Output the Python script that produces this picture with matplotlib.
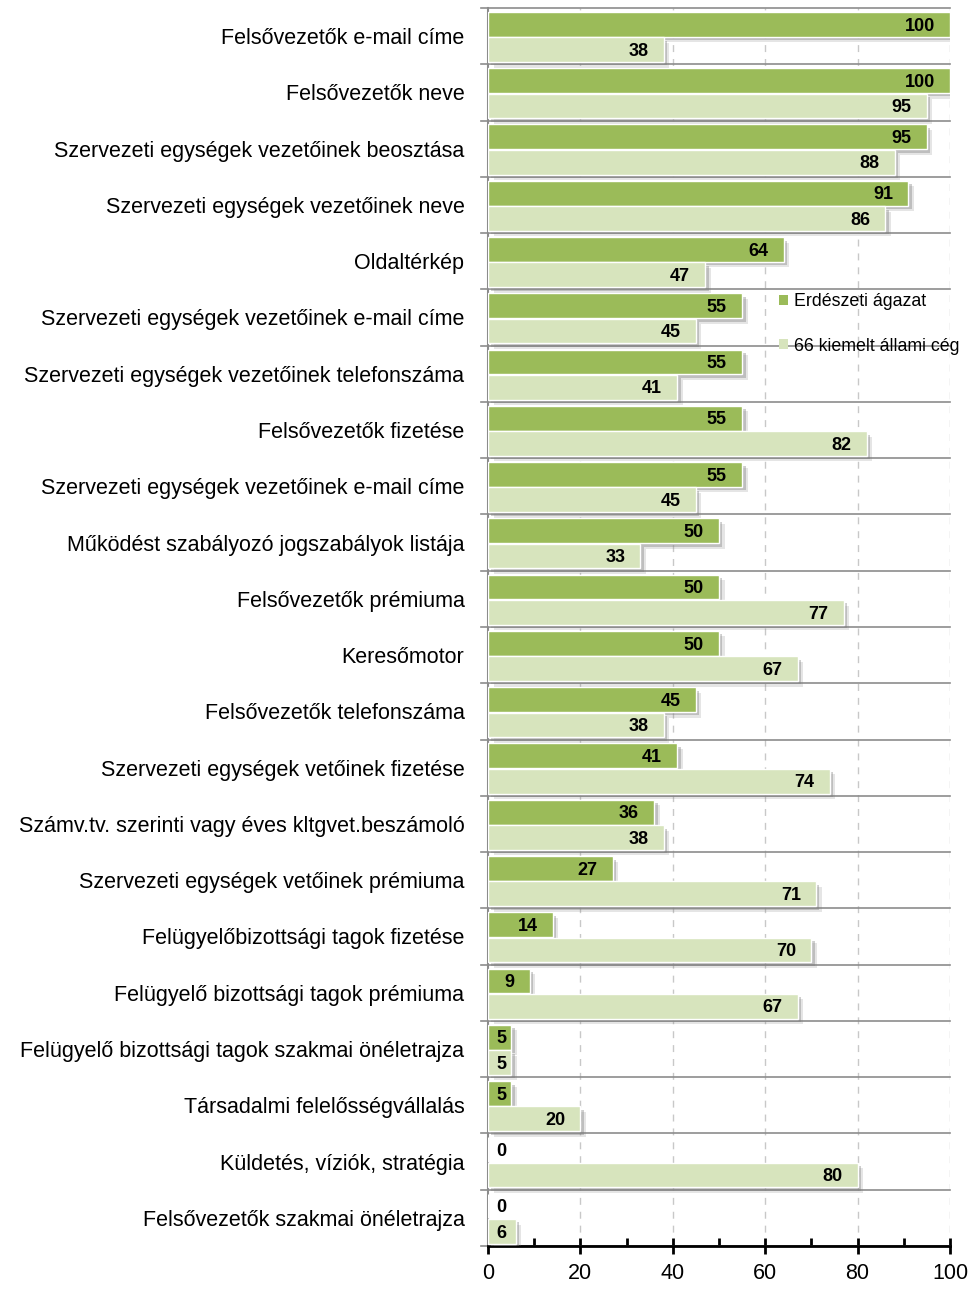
import matplotlib
matplotlib.use("Agg")
import matplotlib.pyplot as plt
import matplotlib.patheffects as pe
from matplotlib import font_manager
import numpy as np

categories = [
    "Felsővezetők e-mail címe",
    "Felsővezetők neve",
    "Szervezeti egységek vezetőinek beosztása",
    "Szervezeti egységek vezetőinek neve",
    "Oldaltérkép",
    "Szervezeti egységek vezetőinek e-mail címe",
    "Szervezeti egységek vezetőinek telefonszáma",
    "Felsővezetők fizetése",
    "Szervezeti egységek vezetőinek e-mail címe",
    "Működést szabályozó jogszabályok listája",
    "Felsővezetők prémiuma",
    "Keresőmotor",
    "Felsővezetők telefonszáma",
    "Szervezeti egységek vetőinek fizetése",
    "Számv.tv. szerinti vagy éves kltgvet.beszámoló",
    "Szervezeti egységek vetőinek prémiuma",
    "Felügyelőbizottsági tagok fizetése",
    "Felügyelő bizottsági tagok prémiuma",
    "Felügyelő bizottsági tagok szakmai önéletrajza",
    "Társadalmi felelősségvállalás",
    "Küldetés, víziók, stratégia",
    "Felsővezetők szakmai önéletrajza",
]
erdeszeti = [100, 100, 95, 91, 64, 55, 55, 55, 55, 50, 50, 50, 45, 41, 36, 27, 14, 9, 5, 5, 0, 0]
allami = [38, 95, 88, 86, 47, 45, 41, 82, 45, 33, 77, 67, 38, 74, 38, 71, 70, 67, 5, 20, 80, 6]
series_names = ["Erdészeti ágazat", "66 kiemelt állami cég"]
xticks = [0, 20, 40, 60, 80, 100]

avail = {f.name for f in font_manager.fontManager.ttflist}
fam = ["Liberation Sans Narrow"] if "Liberation Sans Narrow" in avail else []
fam = fam + ["Liberation Sans", "DejaVu Sans"]
plt.rcParams["font.family"] = fam

dark = "#9BBB59"
light = "#D7E4BD"

fig = plt.figure(figsize=(9.73, 12.92), dpi=100)
ax = fig.add_axes([488 / 973, 1 - 1246 / 1292, (950 - 488) / 973, (1246 - 8) / 1292])

n = len(categories)
y = np.arange(n)
h = 0.44
shadow = [pe.SimplePatchShadow(offset=(4, -4), shadow_rgbFace="#7f7f7f", alpha=0.2),
          pe.SimplePatchShadow(offset=(2.5, -2.5), shadow_rgbFace="#7f7f7f", alpha=0.38),
          pe.Normal()]

b1 = ax.barh(y - 0.21, erdeszeti, height=h, color=dark, edgecolor="white", linewidth=1.0,
             label=series_names[0], zorder=3)
b2 = ax.barh(y + 0.24, allami, height=h, color=light, edgecolor="white", linewidth=1.0,
             label=series_names[1], zorder=3)
for b in list(b1) + list(b2):
    if b.get_width() > 0:
        b.set_path_effects(shadow)

pad = 3.3
minx = 3.9
for yy, v in zip(y - 0.21, erdeszeti):
    ax.text(max(v - pad, minx), yy + 0.03, str(v), ha="right", va="center",
            fontsize=13, fontweight="bold", zorder=5)
for yy, v in zip(y + 0.24, allami):
    ax.text(max(v - pad, minx), yy + 0.03, str(v), ha="right", va="center",
            fontsize=13, fontweight="bold", zorder=5)

ax.set_xlim(0, 100)
ax.set_ylim(n - 0.5, -0.5)

# separators
for b in np.arange(-0.5, n, 1.0):
    ax.plot([-1.6, 100], [b, b], color="#8c8c8c", lw=1.2, clip_on=False, zorder=2)

for xv in [20, 40, 60, 80, 100]:
    ax.axvline(xv, color="#c8c8c8", lw=1.0, ls=(0, (5, 5)), zorder=1)

ax.set_yticks(y)
ax.set_yticklabels(categories, fontsize=15.5)
ax.tick_params(axis="y", length=0, pad=17)

ax.set_xticks(xticks)
ax.set_xticklabels([str(t) for t in xticks], fontsize=15.5)
ax.set_xticks([10, 30, 50, 70, 90], minor=True)
ax.tick_params(axis="x", which="major", direction="inout", length=12, width=2, color="black", pad=6)
ax.tick_params(axis="x", which="minor", direction="in", length=6, width=2, color="black")

for s in ["top", "right"]:
    ax.spines[s].set_visible(False)
ax.spines["left"].set_color("#8c8c8c")
ax.spines["left"].set_linewidth(1.5)
ax.spines["bottom"].set_color("black")
ax.spines["bottom"].set_linewidth(2)

leg = ax.legend(loc="upper left", bbox_to_anchor=(779 / 973, 1 - 293 / 1292),
                bbox_transform=fig.transFigure, frameon=False, fontsize=12.8,
                handlelength=0.5, handleheight=0.5, handletextpad=0.35,
                labelspacing=1.55, borderpad=0, borderaxespad=0)
for hnd in leg.legend_handles:
    hnd.set_path_effects([])
    hnd.set_edgecolor("none")

fig.savefig("out.png", dpi=100)
